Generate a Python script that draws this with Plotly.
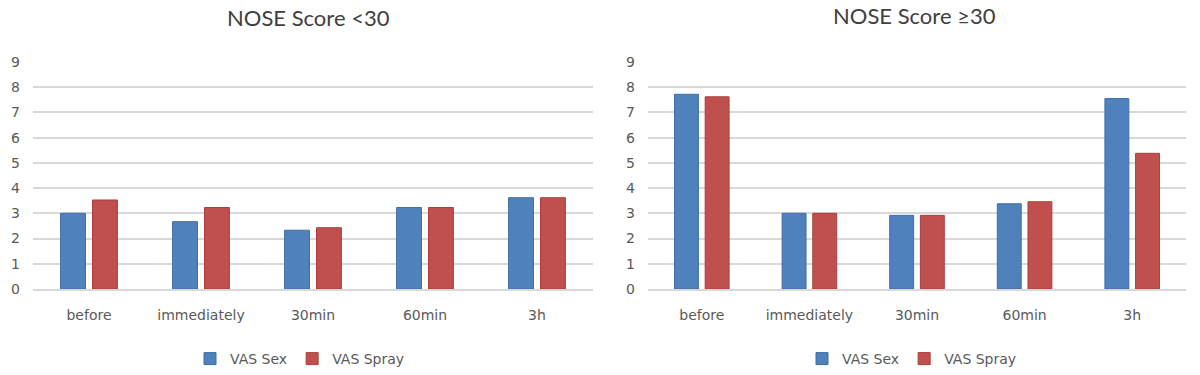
import plotly.graph_objects as go

categories = ["before", "immediately", "30min", "60min", "3h"]
left_sex = [3.0, 2.67, 2.33, 3.23, 3.62]
left_spray = [3.53, 3.23, 2.43, 3.23, 3.62]
right_sex = [7.72, 3.0, 2.92, 3.38, 7.55]
right_spray = [7.62, 3.0, 2.92, 3.46, 5.38]
series_names = ["VAS Sex", "VAS Spray"]
titles = ["NOSE Score <30", "NOSE Score \u226530"]
y_ticks = list(range(0, 10))

BLUE = "#4f81bd"
RED = "#c0504d"
GRID = "#d9d9d9"
TXT = "#595959"
FONT = "DejaVu Sans"
TFONT = "Lato"

fig = go.Figure()
fig.add_trace(go.Bar(x=categories, y=left_sex, name=series_names[0], marker=dict(color=BLUE, line=dict(color="#3f6fa8", width=1)),
                     xaxis="x", yaxis="y", legend="legend"))
fig.add_trace(go.Bar(x=categories, y=left_spray, name=series_names[1], marker=dict(color=RED, line=dict(color="#a9403d", width=1)),
                     xaxis="x", yaxis="y", legend="legend"))
fig.add_trace(go.Bar(x=categories, y=right_sex, name=series_names[0], marker=dict(color=BLUE, line=dict(color="#3f6fa8", width=1)),
                     xaxis="x2", yaxis="y2", legend="legend2"))
fig.add_trace(go.Bar(x=categories, y=right_spray, name=series_names[1], marker=dict(color=RED, line=dict(color="#a9403d", width=1)),
                     xaxis="x2", yaxis="y2", legend="legend2"))

ydom = [1 - 289 / 375, 1 - 62 / 375]
yax = dict(range=[0, 9], tickvals=y_ticks, showgrid=True, gridcolor=GRID, gridwidth=1.5,
           zeroline=False, showline=False, ticks="", tickfont=dict(family=FONT, size=14, color=TXT),
           domain=ydom, fixedrange=True, automargin=False, ticklabelstandoff=12)
xax = dict(showgrid=False, showline=True, linecolor=GRID, linewidth=1.5, ticks="",
           tickfont=dict(family=FONT, size=14, color=TXT), zeroline=False, automargin=False,
           ticklabelstandoff=12, fixedrange=True)

legend_common = dict(orientation="h", xanchor="center", yanchor="middle", y=1 - 359 / 375,
                     font=dict(family=FONT, size=14, color=TXT), itemwidth=30,
                     bgcolor="rgba(0,0,0,0)", traceorder="normal")

fig.update_layout(
    width=1200, height=375,
    margin=dict(l=0, r=0, t=0, b=0, autoexpand=False),
    paper_bgcolor="white", plot_bgcolor="white",
    barmode="group", bargap=0.43, bargroupgap=0.22,
    xaxis=dict(domain=[33 / 1200, 593 / 1200], anchor="y", **xax),
    yaxis=dict(anchor="x", **yax),
    xaxis2=dict(domain=[648 / 1200, 1186 / 1200], anchor="y2", **xax),
    yaxis2=dict(anchor="x2", **yax),
    legend=dict(x=300 / 1200, **legend_common),
    legend2=dict(x=912 / 1200, **legend_common),
    annotations=[
        dict(text=titles[0], x=308 / 1200, y=1 - 17 / 375, xref="paper", yref="paper",
             showarrow=False, font=dict(family=TFONT, size=22, color="#404040"), xanchor="center", yanchor="middle"),
        dict(text=titles[1], x=914 / 1200, y=1 - 15 / 375, xref="paper", yref="paper",
             showarrow=False, font=dict(family=TFONT, size=22, color="#404040"), xanchor="center", yanchor="middle"),
    ],
)

fig.write_html("out.html", config={"displayModeBar": False},
               post_script="document.body.style.margin='0';document.body.style.overflow='hidden';")
